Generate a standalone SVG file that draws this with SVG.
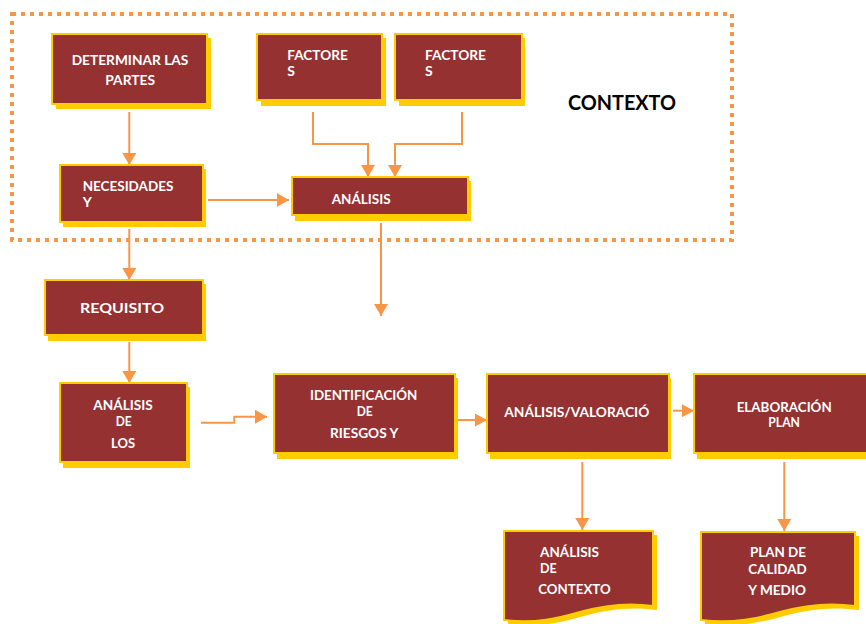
<svg xmlns="http://www.w3.org/2000/svg" width="866" height="624" viewBox="0 0 866 624">
<style>
.sh{fill:#FFCC00}
.bx{fill:#963132;stroke:#FFCC00;stroke-width:2}
.t{font-family:Lato,"Open Sans","Liberation Sans",sans-serif;font-weight:bold;font-size:14px;fill:#FFFFFF}
.c{stroke:#F79646;stroke-width:2;fill:none}
</style>
<defs>
<marker id="ah" markerUnits="userSpaceOnUse" markerWidth="14" markerHeight="14" viewBox="0 0 12 14" refX="12" refY="7" orient="auto">
<path d="M0,0 L12,7 L0,14 Z" fill="#F79646"/>
</marker>
<marker id="ahs" markerUnits="userSpaceOnUse" markerWidth="12" markerHeight="13" viewBox="0 0 12 13" refX="12" refY="6.5" orient="auto">
<path d="M0,0 L12,6.5 L0,13 Z" fill="#F79646"/>
</marker>
</defs>
<rect width="866" height="624" fill="#FFFFFF"/>

<g id="contexto-frame">
<rect x="12" y="14" width="720" height="226" fill="none" stroke="#F79646" stroke-width="4" stroke-dasharray="4 5"/>
<text x="568" y="110" font-family="Lato,'Open Sans','Liberation Sans',sans-serif" font-weight="bold" font-size="20" fill="#000000" textLength="108" lengthAdjust="spacingAndGlyphs">CONTEXTO</text>
</g>

<g id="connectors">
<path class="c" d="M129.3,112 V165" marker-end="url(#ah)"/>
<path class="c" d="M313,112 V144 H368 V177" marker-end="url(#ah)"/>
<path class="c" d="M462,112 V144 H395 V177" marker-end="url(#ah)"/>
<path class="c" d="M208,200 H289" marker-end="url(#ah)"/>
<path class="c" d="M129.3,229 V280" marker-end="url(#ah)"/>
<path class="c" d="M381,223 V316" marker-end="url(#ah)"/>
<path class="c" d="M129.3,342 V383" stroke="#F9AE78" marker-end="url(#ah)"/>
<path class="c" d="M201,422.7 H234.3 V416.7 H267" marker-end="url(#ah)"/>
<path class="c" d="M457,420 H487" marker-end="url(#ahs)"/>
<path class="c" d="M673,410.7 H694" stroke-width="3.5" marker-end="url(#ahs)"/>
<path class="c" d="M582.3,462 V530" marker-end="url(#ah)"/>
<path class="c" d="M784.3,462 V531" marker-end="url(#ah)"/>
</g>

<g id="determinar">
<rect class="sh" x="56" y="38" width="155" height="71"/>
<rect class="bx" x="52" y="34" width="155" height="70"/>
<text class="t" x="71.7" y="65" textLength="116.6" lengthAdjust="spacingAndGlyphs">DETERMINAR LAS</text>
<text class="t" x="105.3" y="85" textLength="49.7" lengthAdjust="spacingAndGlyphs">PARTES</text>
</g>

<g id="factores1">
<rect class="sh" x="261" y="38" width="125" height="68"/>
<rect class="bx" x="257" y="34" width="125" height="66"/>
<text class="t" x="287.3" y="60" textLength="60.4" lengthAdjust="spacingAndGlyphs">FACTORE</text>
<text class="t" x="287.3" y="76">S</text>
</g>

<g id="factores2">
<rect class="sh" x="399" y="38" width="126" height="68"/>
<rect class="bx" x="395" y="34" width="127" height="66"/>
<text class="t" x="425" y="60" textLength="61" lengthAdjust="spacingAndGlyphs">FACTORE</text>
<text class="t" x="425" y="76">S</text>
</g>

<g id="necesidades">
<rect class="sh" x="63" y="169" width="143" height="58"/>
<rect class="bx" x="60" y="165" width="143" height="57"/>
<text class="t" x="82.7" y="191" textLength="90.6" lengthAdjust="spacingAndGlyphs">NECESIDADES</text>
<text class="t" x="82.7" y="207">Y</text>
</g>

<g id="analisis">
<rect class="sh" x="295" y="181" width="176" height="40"/>
<rect class="bx" x="292" y="177" width="176" height="38"/>
<text class="t" x="331.7" y="204" textLength="59" lengthAdjust="spacingAndGlyphs">ANÁLISIS</text>
</g>

<g id="requisito">
<rect class="sh" x="48" y="284" width="158" height="57"/>
<rect class="bx" x="45" y="280" width="158" height="55"/>
<text class="t" x="80" y="312.7" font-size="17" textLength="84" lengthAdjust="spacingAndGlyphs">REQUISITO</text>
</g>

<g id="analisis-de-los">
<rect class="sh" x="63" y="387" width="127" height="81"/>
<rect class="bx" x="60" y="383" width="127" height="79"/>
<text class="t" x="93.3" y="410" textLength="59.4" lengthAdjust="spacingAndGlyphs">ANÁLISIS</text>
<text class="t" x="115.7" y="425.7" textLength="16" lengthAdjust="spacingAndGlyphs">DE</text>
<text class="t" x="111" y="447.7" textLength="24" lengthAdjust="spacingAndGlyphs">LOS</text>
</g>

<g id="identificacion">
<rect class="sh" x="277" y="378" width="181" height="81"/>
<rect class="bx" x="274" y="374" width="181" height="79"/>
<text class="t" x="310" y="400" textLength="107.3" lengthAdjust="spacingAndGlyphs">IDENTIFICACIÓN</text>
<text class="t" x="356.7" y="415.7" textLength="16" lengthAdjust="spacingAndGlyphs">DE</text>
<text class="t" x="330" y="437.7" textLength="68.3" lengthAdjust="spacingAndGlyphs">RIESGOS Y</text>
</g>

<g id="valoracion">
<rect class="sh" x="490" y="378" width="181" height="81"/>
<rect class="bx" x="487" y="374" width="182" height="79"/>
<text class="t" x="504.3" y="417.3" textLength="145" lengthAdjust="spacingAndGlyphs">ANÁLISIS/VALORACIÓ</text>
</g>

<g id="elaboracion">
<rect class="sh" x="697" y="378" width="200" height="81"/>
<rect class="bx" x="694" y="374" width="200" height="79"/>
<text class="t" x="736.7" y="411.7" textLength="95" lengthAdjust="spacingAndGlyphs">ELABORACIÓN</text>
<text class="t" x="768.3" y="427.3" textLength="31.7" lengthAdjust="spacingAndGlyphs">PLAN</text>
</g>

<g id="analisis-contexto">
<path class="sh" d="M508,535 H657 V610 C630,606 605,610 584,616 C563,622 540,628 508,624 Z"/>
<path class="bx" d="M504,531 H653 V606 C626,602 601,606 580,612 C559,618 536,624 504,620 Z"/>
<text class="t" x="540" y="556.7" textLength="59" lengthAdjust="spacingAndGlyphs">ANÁLISIS</text>
<text class="t" x="540" y="573.3" textLength="16.7" lengthAdjust="spacingAndGlyphs">DE</text>
<text class="t" x="538.3" y="594" textLength="72.4" lengthAdjust="spacingAndGlyphs">CONTEXTO</text>
</g>

<g id="plan-calidad">
<path class="sh" d="M705,536 H859 V610 C831,606 805,610 784,616 C763,622 738,628 705,624 Z"/>
<path class="bx" d="M701,532 H855 V606 C827,602 801,606 780,612 C759,618 734,624 701,620 Z"/>
<text class="t" x="750" y="557.3" textLength="56" lengthAdjust="spacingAndGlyphs">PLAN DE</text>
<text class="t" x="748.3" y="574" textLength="58.4" lengthAdjust="spacingAndGlyphs">CALIDAD</text>
<text class="t" x="748.3" y="595" textLength="57.7" lengthAdjust="spacingAndGlyphs">Y MEDIO</text>
</g>
</svg>
